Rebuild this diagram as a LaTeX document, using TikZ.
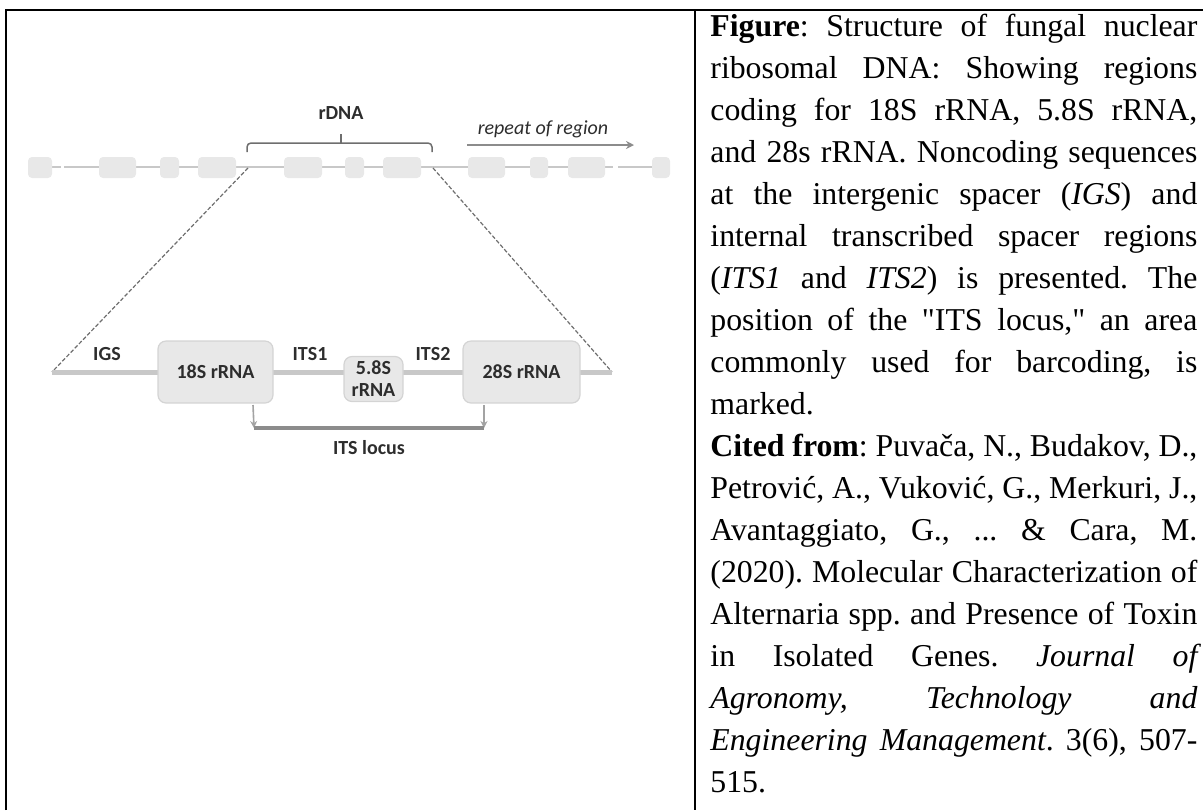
\documentclass[tikz,border=0pt]{standalone}
\usepackage{fontspec}
\setmainfont{Liberation Serif}[Ligatures=TeXOff]
\newfontfamily\diafont{Carlito}
\usetikzlibrary{positioning,arrows.meta}
\definecolor{trackgray}{RGB}{200,200,200}
\definecolor{boxgray}{RGB}{232,232,232}
\definecolor{boxedge}{RGB}{212,212,212}
\definecolor{labelgray}{RGB}{45,45,45}
\definecolor{dashgray}{RGB}{110,110,110}
\definecolor{locusgray}{RGB}{140,140,140}

\begin{document}
\frenchspacing
\begin{tikzpicture}[x=0.5pt,y=-0.5pt,
  topbox/.style={fill=boxgray,rounded corners=2pt},
  genebox/.style={draw=boxedge,fill=boxgray,rounded corners=4pt,line width=0.6pt,
    inner sep=0pt,align=center,font=\diafont\bfseries\fontsize{10}{11}\selectfont,text=labelgray},
  lbl/.style={inner sep=0pt,font=\diafont\bfseries\fontsize{10}{11}\selectfont,text=labelgray},
  zoomline/.style={dashgray,line width=0.6pt,dash pattern=on 2pt off 1pt}]
\useasboundingbox (0,0) rectangle (1203,810);
% frame
\draw[line width=1.4pt] (6,810) -- (6,10) -- (1210,10);
\draw[line width=1.4pt] (695,10) -- (695,810);
% top track
\draw[trackgray,line width=0.8pt] (28,167) -- (61,167);
\draw[trackgray,line width=0.8pt] (64,167) -- (613,167);
\draw[trackgray,line width=0.8pt] (618,167) -- (670,167);
\fill[topbox] (28,157) rectangle (52,178);
\fill[topbox] (99,157) rectangle (136,178);
\fill[topbox] (160,157) rectangle (179,178);
\fill[topbox] (198,157) rectangle (236,178);
\fill[topbox] (284,157) rectangle (322,178);
\fill[topbox] (345,157) rectangle (364,178);
\fill[topbox] (383,157) rectangle (421,178);
\fill[topbox] (468,157) rectangle (505,178);
\fill[topbox] (530,157) rectangle (548,178);
\fill[topbox] (568,157) rectangle (605,178);
\fill[topbox] (652,157) rectangle (670,178);
% rDNA bracket
\draw[dashgray,line width=0.75pt,rounded corners=2pt] (247,152) -- (247,143) -- (432,143) -- (432,152);
\draw[dashgray,line width=0.75pt] (341,143) -- (341,134);
\node[lbl] (rdna) at (341,113) {rDNA};
% repeat arrow
\coordinate (rep-start) at (467,145);
\coordinate (rep-end) at (634,145);
\draw[locusgray,line width=0.75pt,-{Stealth[length=4pt,width=4pt]}] (rep-start) -- (rep-end);
\node[lbl,font=\diafont\itshape\fontsize{10}{11}\selectfont] (repeat) at (543,129) {repeat of region};
% zoom lines
\coordinate (zoom-tl) at (248,168);
\coordinate (zoom-tr) at (433,168);
\coordinate (zoom-bl) at (52,372);
\coordinate (zoom-br) at (612,372);
\draw[zoomline] (zoom-tl) -- (zoom-bl);
\draw[zoomline] (zoom-tr) -- (zoom-br);
% lower track
\draw[trackgray,line width=2.5pt] (zoom-bl) -- (zoom-br);
\node[genebox,minimum width=57.5pt,minimum height=31pt] (rrna18) at (215.5,372) {18S rRNA};
\node[genebox,minimum width=29.5pt,minimum height=22.5pt] (rrna58) at (373.5,379) {5.8S\\rRNA};
\node[genebox,minimum width=58.5pt,minimum height=31pt] (rrna28) at (521.5,372) {28S rRNA};
\node[lbl] (igs) at (107,354) {IGS};
\node[lbl] (its1) at (310,354) {ITS1};
\node[lbl] (its2) at (433,354) {ITS2};
% ITS locus
\coordinate (locus-l) at (254,428);
\coordinate (locus-r) at (484,428);
\draw[locusgray!80,line width=0.8pt,-{Stealth[length=3.5pt,width=3.5pt]}] (253,405) -- (locus-l);
\draw[locusgray!80,line width=0.8pt,-{Stealth[length=3.5pt,width=3.5pt]}] (484,405) -- (locus-r);
\draw[locusgray,line width=2pt] (locus-l) -- (locus-r);
\node[lbl] (itslocus) at (369,448) {ITS locus};
% caption
\node[anchor=north west,inner sep=0pt,text width=243.5pt,align=justify,
  font=\fontsize{15.9}{21}\selectfont] (caption) at (710,14) {%
\textbf{Figure}: Structure of fungal nuclear\linebreak
ribosomal DNA: Showing regions\linebreak
coding for 18S rRNA, 5.8S rRNA,\linebreak
and 28s rRNA. Noncoding sequences\linebreak
at the intergenic spacer (\textit{IGS}) and\linebreak
internal transcribed spacer regions\linebreak
(\textit{ITS1} and \textit{ITS2}) is presented. The\linebreak
position of the "ITS locus," an area\linebreak
commonly used for barcoding, is\linebreak
marked.\par
\textbf{Cited from}: Puvača, N., Budakov, D.,\linebreak
Petrović, A., Vuković, G., Merkuri, J.,\linebreak
Avantaggiato, G., ... \& Cara, M.\linebreak
(2020). Molecular Characterization of\linebreak
Alternaria spp. and Presence of Toxin\linebreak
in Isolated Genes. \textit{Journal of\linebreak
Agronomy, Technology and\linebreak
Engineering Management}. 3(6), 507-\linebreak
515.};
\end{tikzpicture}
\end{document}
